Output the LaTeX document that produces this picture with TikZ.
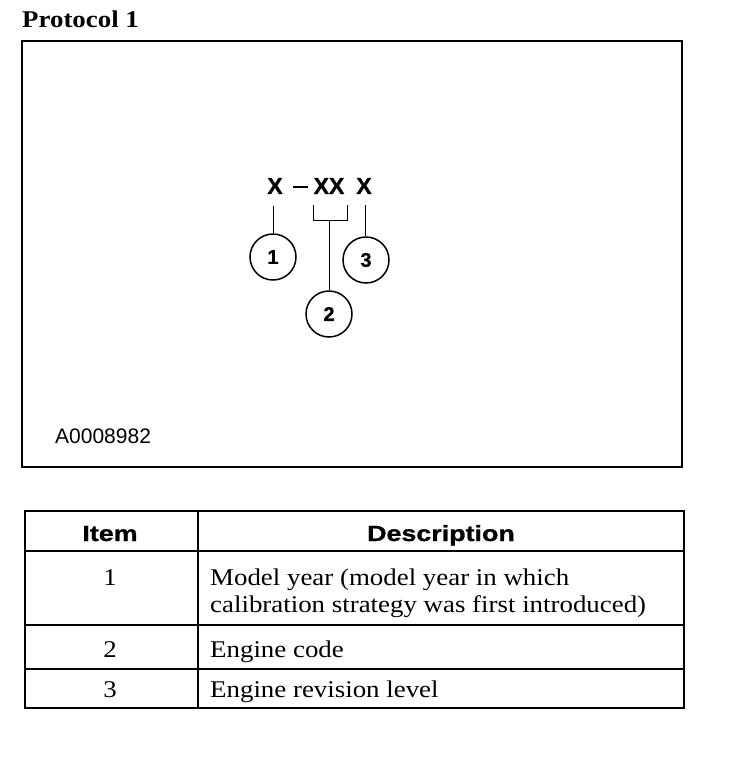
\documentclass[tikz,border=0pt]{standalone}
\usepackage{fontspec}
\setmainfont{Liberation Serif}[FakeStretch=1.12]
\setsansfont{Liberation Sans}
\newfontfamily\headfont{Liberation Sans}[FakeStretch=1.22, FakeBold=1]
\newfontfamily\codefont{Liberation Sans}[FakeBold=0.8]
\usetikzlibrary{positioning, calc}

\begin{document}
\begin{tikzpicture}[
  x=1pt, y=-1pt,
  frame/.style={draw=black, line width=1.8pt},
  lead/.style={draw=black, line width=1pt},
  callout/.style={circle, draw=black, line width=1.5pt, minimum size=46pt, inner sep=0pt,
    font=\codefont\bfseries\fontsize{20}{20}\selectfont},
  codechar/.style={inner sep=0pt, font=\codefont\bfseries\fontsize{23}{23}\selectfont},
  dashbar/.style={fill=black, inner sep=0pt, minimum width=15pt, minimum height=2pt},
  title/.style={inner sep=0pt, anchor=base west, font=\bfseries\fontsize{24}{24}\selectfont},
  figid/.style={inner sep=0pt, anchor=base west, font=\sffamily\fontsize{21}{21}\selectfont},
  headcell/.style={inner sep=0pt, anchor=base, font=\headfont\bfseries\fontsize{22}{22}\selectfont},
  cell/.style={inner sep=0pt, anchor=base west, align=left, font=\fontsize{24}{27}\selectfont},
  numcell/.style={inner sep=0pt, anchor=base, font=\fontsize{24}{27}\selectfont},
]
\useasboundingbox (0,0) rectangle (736,758);

% =========================
% Figure frame
% =========================
\node[title] (ttl) at (22,27) {Protocol 1};
\draw[frame] (22,41) rectangle (682,467);

% code string
\node[codechar] (x1)  at (275,186) {X};
\node[dashbar]  (dsh) at (300,187) {};
\node[codechar] (xx)  at (329,186) {XX};
\node[codechar] (x3)  at (364,186) {X};

% callouts
\node[callout] (c1) at (273,257) {1};
\node[callout] (c2) at (329,314) {2};
\node[callout] (c3) at (366,260) {3};

% leaders
\coordinate (t1) at (273,206);
\coordinate (bl) at (313,205);
\coordinate (br) at (347,205);
\coordinate (bs) at (329,220);
\coordinate (t3) at (365,205);
\draw[lead] (t1) -- (c1.north);
\draw[lead] (bl) -- ++(0,15) -| (br);
\draw[lead] (bs) -- (c2.north);
\draw[lead] (t3) -- (t3 |- c3.north);

\node[figid] (fid) at (55,443) {A0008982};

% =========================
% Item table
% =========================
\draw[frame] (25,511) rectangle (684,708);
\draw[frame] (198,511) -- (198,708);
\foreach \yy in {551,625,669} {
  \draw[frame] (25,\yy) -- (684,\yy);
}

\node[headcell] (hitem) at (110,541) {Item};
\node[headcell] (hdesc) at (441,541) {Description};

\node[numcell] (n1) at (110,585) {1};
\node[cell]    (d1) at (210,612) {Model year (model year in which\\calibration strategy was first introduced)};
\node[numcell] (n2) at (110,657) {2};
\node[cell]    (d2) at (210,657) {Engine code};
\node[numcell] (n3) at (110,697) {3};
\node[cell]    (d3) at (210,697) {Engine revision level};

\end{tikzpicture}
\end{document}
